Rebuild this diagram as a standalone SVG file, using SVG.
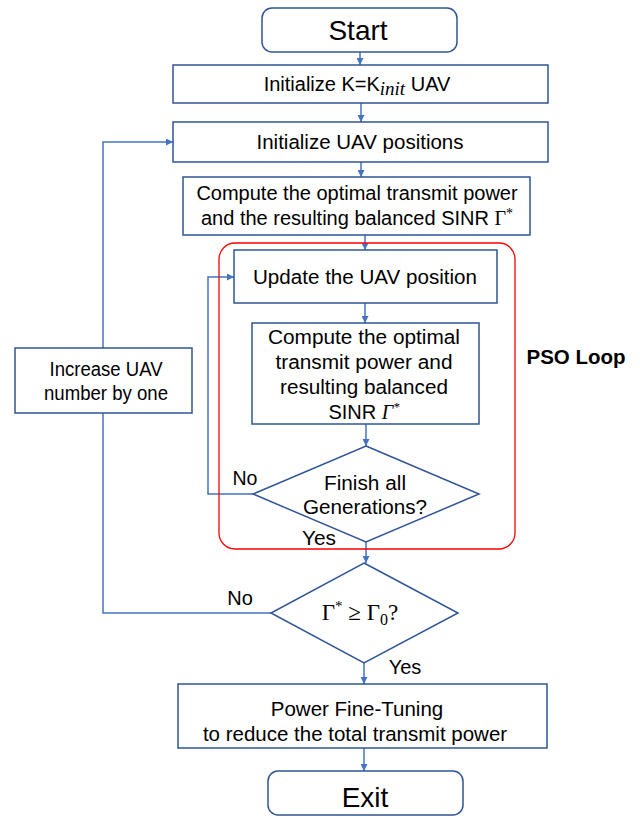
<svg xmlns="http://www.w3.org/2000/svg" width="640" height="818" viewBox="0 0 640 818">
<defs>
<marker id="ah" viewBox="0 0 10 10" refX="10" refY="5" markerWidth="7" markerHeight="7" orient="auto" markerUnits="userSpaceOnUse">
<path d="M0,0 L10,5 L0,10 z" fill="#4472C4"/>
</marker>
<style>
.box{fill:#fff;stroke:#2F5597;stroke-width:1.5}
.ln{fill:none;stroke:#4472C4;stroke-width:1.5;marker-end:url(#ah)}
.pl{fill:none;stroke:#4472C4;stroke-width:1.5}
.t{font-family:"Liberation Sans",Arial,sans-serif;font-size:20px;fill:#000;text-anchor:middle}
.s{font-family:"Liberation Serif","Times New Roman",serif}
</style>
</defs>
<rect width="640" height="818" fill="#fff"/>
<g id="connectors">
<path class="ln" d="M360,52 V65"/>
<path class="ln" d="M361,103 V122"/>
<path class="ln" d="M361,162 V177"/>
<path class="ln" d="M365,235 V250"/>
<path class="ln" d="M365,303 V323"/>
<path class="ln" d="M366,424 V446"/>
<path class="ln" d="M253,494 H208 V277 H234"/>
<path class="ln" d="M366,542 V563"/>
<path class="pl" d="M271,613 H103 V413"/>
<path class="ln" d="M103,348 V142 H173"/>
<path class="ln" d="M364,663 V684"/>
<path class="ln" d="M364,748 V771"/>
</g>
<g id="pso-loop">
<rect x="219" y="243" width="296" height="306" rx="16" fill="none" stroke="#FF0000" stroke-width="1.3"/>
<text x="576" y="364" class="t" style="font-weight:bold;font-size:20.5px">PSO Loop</text>
</g>
<g id="start">
<rect class="box" x="262" y="8" width="195" height="44" rx="10"/>
<text x="358" y="40" class="t" style="font-size:28px">Start</text>
</g>
<g id="init-k">
<rect class="box" x="173" y="65" width="375" height="38"/>
<text x="357" y="91" class="t">Initialize K=K<tspan class="s" font-style="italic" dy="4" font-size="19">init</tspan><tspan dy="-4"> UAV</tspan></text>
</g>
<g id="init-pos">
<rect class="box" x="173" y="122" width="375" height="40"/>
<text x="360" y="149" class="t" style="font-size:20.5px">Initialize UAV positions</text>
</g>
<g id="compute1">
<rect class="box" x="183" y="177" width="347" height="58"/>
<text x="357" y="200" class="t">Compute the optimal transmit power</text>
<text x="357" y="225" class="t">and the resulting balanced SINR <tspan class="s">Γ</tspan><tspan class="s" font-size="14" dy="-7">*</tspan></text>
</g>
<g id="update">
<rect class="box" x="234" y="250" width="263" height="53"/>
<text x="365" y="284" class="t" style="font-size:20px" textLength="224" lengthAdjust="spacingAndGlyphs">Update the UAV position</text>
</g>
<g id="compute2">
<rect class="box" x="252" y="323" width="227" height="101"/>
<text x="364" y="344" class="t" textLength="192" lengthAdjust="spacingAndGlyphs">Compute the optimal</text>
<text x="364" y="369" class="t" textLength="177" lengthAdjust="spacingAndGlyphs">transmit power and</text>
<text x="364" y="394" class="t" textLength="168" lengthAdjust="spacingAndGlyphs">resulting balanced</text>
<text x="364" y="419" class="t">SINR <tspan class="s" font-style="italic">Γ</tspan><tspan class="s" font-style="italic" font-size="13" dy="-8">*</tspan></text>
</g>
<g id="finish">
<path class="box" d="M366,446 L479,494 L366,542 L253,494 Z"/>
<text x="365" y="490" class="t" textLength="82" lengthAdjust="spacingAndGlyphs">Finish all</text>
<text x="365" y="514" class="t" textLength="124" lengthAdjust="spacingAndGlyphs">Generations?</text>
<text x="245" y="485" class="t" textLength="25" lengthAdjust="spacingAndGlyphs">No</text>
<text x="319" y="545" class="t" textLength="34" lengthAdjust="spacingAndGlyphs">Yes</text>
</g>
<g id="increase">
<rect class="box" x="15" y="348" width="177" height="65"/>
<text x="106" y="376" class="t" textLength="113" lengthAdjust="spacingAndGlyphs">Increase UAV</text>
<text x="106" y="400" class="t" textLength="124" lengthAdjust="spacingAndGlyphs">number by one</text>
</g>
<g id="check">
<path class="box" d="M364,563 L458,613 L364,663 L271,613 Z"/>
<text x="360" y="620" class="t s" style="font-size:23px">Γ<tspan font-size="15" dy="-9">*</tspan><tspan dy="9"> ≥ Γ</tspan><tspan font-size="16" dy="5">0</tspan><tspan dy="-5">?</tspan></text>
<text x="240" y="605" class="t">No</text>
<text x="405" y="674" class="t">Yes</text>
</g>
<g id="finetune">
<rect class="box" x="178" y="684" width="369" height="64"/>
<text x="357" y="716" class="t" style="font-size:20.5px">Power Fine-Tuning</text>
<text x="355" y="741" class="t" style="font-size:20.5px">to reduce the total transmit power</text>
</g>
<g id="exit">
<rect class="box" x="268" y="771" width="195" height="44" rx="10"/>
<text x="365" y="807" class="t" style="font-size:28px">Exit</text>
</g>
</svg>
